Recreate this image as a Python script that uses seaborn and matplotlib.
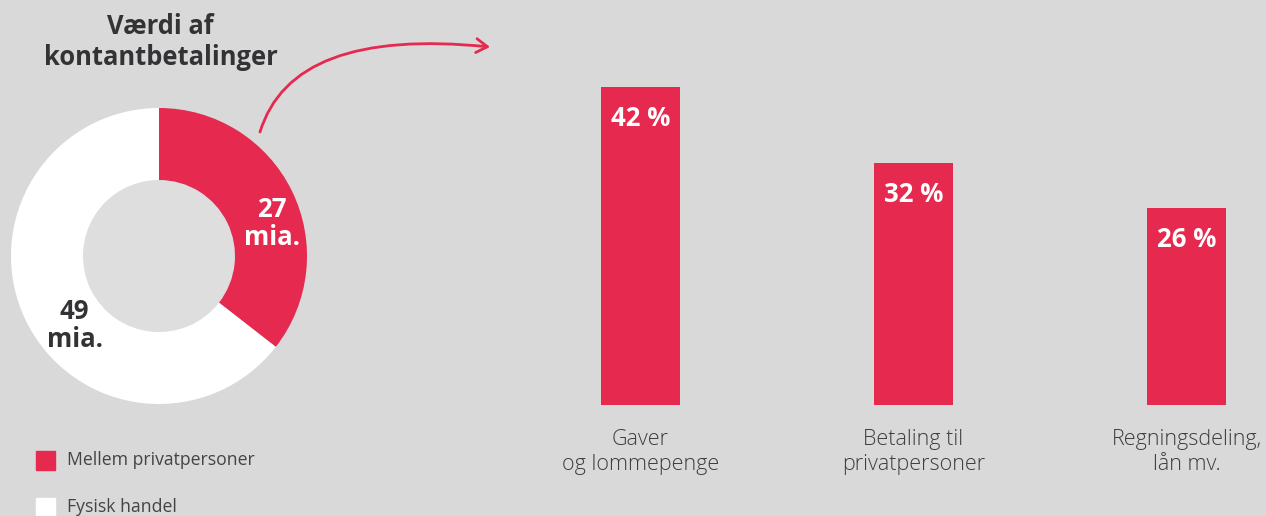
import matplotlib
matplotlib.use("Agg")
import matplotlib.pyplot as plt
from matplotlib.patches import FancyArrowPatch, Circle
from matplotlib.path import Path
import pandas as pd
import seaborn as sns

# data
donut_labels = ["Mellem privatpersoner", "Fysisk handel"]
donut_values = [27, 49]
donut_text = ["27\nmia.", "49\nmia."]
categories = ["Gaver\nog lommepenge", "Betaling til\nprivatpersoner", "Regningsdeling,\nlån mv."]
shares = [42, 32, 26]

RED = "#e5294f"
BG = "#d9d9d9"
DARK = "#333336"

sns.set_theme(style="white")
plt.rcParams["font.family"] = ["Open Sans", "DejaVu Sans"]

W, H = 1266, 516
fig = plt.figure(figsize=(W / 100, H / 100), dpi=100, facecolor=BG)

def px_axes(x0, y0, x1, y1):
    return fig.add_axes([x0 / W, 1 - y1 / H, (x1 - x0) / W, (y1 - y0) / H])

# donut
ax_d = px_axes(11, 108, 307, 404)
ax_d.set_facecolor(BG)
ax_d.pie(donut_values, colors=[RED, "white"], startangle=90, counterclock=False,
         radius=1, wedgeprops=dict(width=1 - 76 / 148, linewidth=0))
ax_d.add_patch(Circle((0, 0), 76 / 148, color="#dedede", zorder=0))
ax_d.set_xlim(-1, 1)
ax_d.set_ylim(-1, 1)
ax_d.set_aspect("equal")
ax_d.axis("off")
ax_d.text(0.765, 0.22, donut_text[0], color="white", fontsize=18.5, fontweight="bold",
          ha="center", va="center", linespacing=1.05)
ax_d.text(-0.57, -0.47, donut_text[1], color=DARK, fontsize=18.5, fontweight="bold",
          ha="center", va="center", linespacing=1.05)

# bars
ax_b = px_axes(558.6, 64.3, 1254.75, 405)
ax_b.set_facecolor(BG)
df = pd.DataFrame({"kategori": categories, "andel": shares})
sns.barplot(data=df, x="kategori", y="andel", color=RED, width=0.29, saturation=1,
            linewidth=0, ax=ax_b)
ax_b.set_xlim(-0.3, 2.25)
ax_b.set_ylim(0, 45)
for i, v in enumerate(shares):
    ax_b.text(i, v - 4.15, f"{v} %", color="white", fontsize=18.5, fontweight="bold",
              ha="center", va="center")
ax_b.set_xlabel("")
ax_b.set_ylabel("")
ax_b.set_yticks([])
ax_b.tick_params(axis="x", length=0, pad=17.5, labelsize=15.5, labelcolor="#3d3d3d")
for lab in ax_b.get_xticklabels():
    lab.set_fontweight("light")
    lab.set_linespacing(1.25)
sns.despine(ax=ax_b, left=True, bottom=True)

# title
fig.text(160.5 / W, 1 - 42 / H, "Værdi af\nkontantbetalinger", ha="center", va="center",
         fontsize=18.4, fontweight="bold", color=DARK, linespacing=1.17)

# arrow
pts = [(260, 132), (292, 27), (490, 47)]
curve = Path([(x / W, 1 - y / H) for x, y in pts], [Path.MOVETO, Path.CURVE3, Path.CURVE3])
arrow = FancyArrowPatch(path=curve, transform=fig.transFigure,
                        arrowstyle="->,head_length=8,head_width=5", color=RED, lw=2)
fig.patches.append(arrow)

# legend
for (lab, col, y) in [(donut_labels[0], RED, 460), (donut_labels[1], "white", 507)]:
    fig.patches.append(plt.Rectangle((36 / W, 1 - (y + 10) / H), 19 / W, 19 / H,
                                     transform=fig.transFigure, color=col))
    fig.text(67 / W, 1 - y / H, lab, ha="left", va="center", fontsize=12.7,
             color="#444444")

fig.savefig("out.png", dpi=100, facecolor=BG)
